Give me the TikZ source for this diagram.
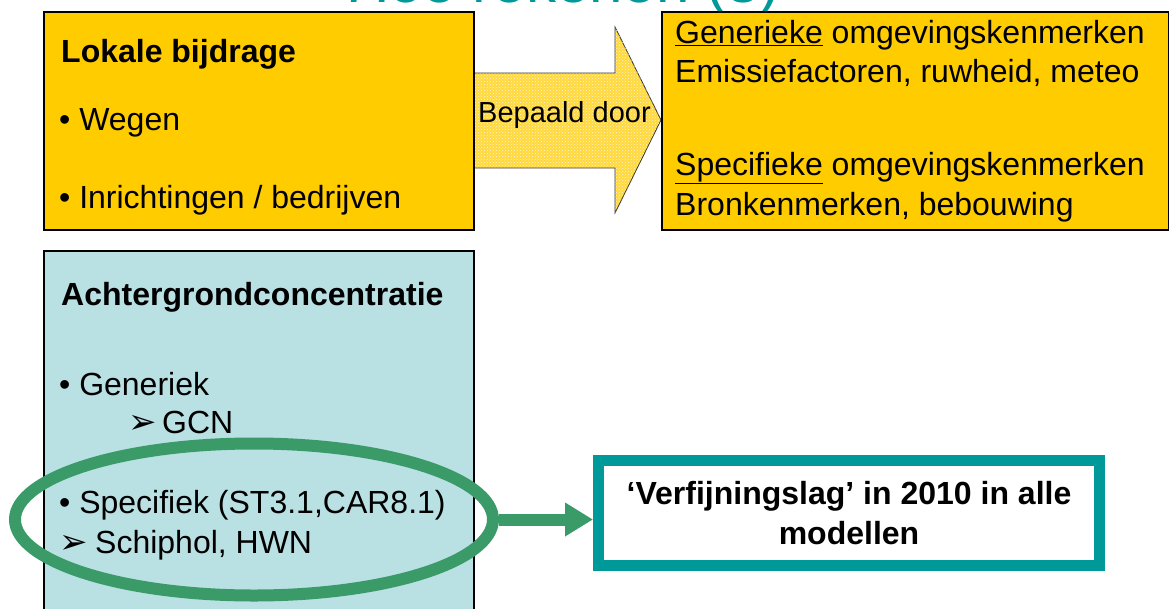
\documentclass[tikz,border=0pt]{standalone}
\usepackage{fontspec}
\setmainfont{Liberation Sans}
\newfontfamily\dingfont{DejaVu Sans}
\usetikzlibrary{arrows.meta,shapes.geometric,patterns}
\definecolor{ppyellow}{HTML}{FFCC00}
\definecolor{arrowyellow}{HTML}{FFD83C}
\definecolor{ppltteal}{HTML}{B9E0E3}
\definecolor{ppgreen}{HTML}{3A9B69}
\definecolor{ppteal}{HTML}{009999}
\newcommand{\darrowhead}{{\dingfont\fontsize{34}{34}\selectfont ➢}}
\begin{document}
\begin{tikzpicture}[x=1pt,y=-1pt,
  txt/.style={anchor=base west, inner sep=0pt, font=\fontsize{32}{38}\selectfont},
  btxt/.style={anchor=base west, inner sep=0pt, font=\fontsize{32}{38}\selectfont\bfseries},
  ybox/.style={rectangle, draw=black, line width=2pt, fill=ppyellow, inner sep=0pt},
  tbox/.style={rectangle, draw=black, line width=1.5pt, fill=ppltteal, inner sep=0pt},
  blockarrow/.style={draw=black!80, line width=0.8pt, fill=arrowyellow,
    postaction={pattern=crosshatch dots, pattern color=white!75!arrowyellow}},
  resbox/.style={rectangle, draw=ppteal, line width=11pt, fill=white, inner sep=0pt,
    align=center, font=\fontsize{32}{40}\selectfont\bfseries},
  ring/.style={ellipse, draw=ppgreen, line width=12pt, inner sep=0pt},
  garrow/.style={draw=ppgreen, line width=12pt, -{Triangle[length=28pt,width=32pt]}},
]
\useasboundingbox (0,0) rectangle (1169,608);
\clip (0,0) rectangle (1169,608);

% title (cut off at the top, as in the reference)
\node[anchor=base west, inner sep=0pt, text=ppteal, font=\fontsize{60}{72}\selectfont] (title) at (346,2) {Hoe rekenen (3)};

% block arrow
\path[blockarrow] (473,73) -- (615,73) -- (615,27) -- (661,120) -- (615,213) -- (615,168) -- (473,168) -- cycle;

% top boxes
\node[ybox, minimum width=430pt, minimum height=218pt] (lok) at (259,121) {};
\node[ybox, minimum width=507pt, minimum height=218pt] (gen) at (915.5,121) {};

\node[btxt] (lokt) at (61,62) {Lokale bijdrage};
\node[txt] (weg) at (59,130) {• Wegen};
\node[txt] (inr) at (59,208) {• Inrichtingen / bedrijven};

\node[txt, font=\fontsize{29}{34}\selectfont] (bep) at (478,122) {Bepaald door};

\node[txt] (g1) at (675,43) {\underline{Generieke} omgevingskenmerken};
\node[txt] (g2) at (675,82) {Emissiefactoren, ruwheid, meteo};
\node[txt] (s1) at (675,175) {\underline{Specifieke} omgevingskenmerken};
\node[txt] (s2) at (675,215) {Bronkenmerken, bebouwing};

% background box
\node[tbox, minimum width=430pt, minimum height=380pt] (ach) at (259,441) {};
\node[btxt] (acht) at (61,305) {Achtergrondconcentratie};
\node[txt] (gnr) at (59,395) {• Generiek};
\node[txt] (gcn) at (128,433) {\makebox[34pt][l]{\darrowhead}GCN};
\node[txt] (spc) at (59,513) {• Specifiek (ST3.1,CAR8.1)};
\node[txt] (sch) at (59,553) {\makebox[36pt][l]{\darrowhead}Schiphol, HWN};

% highlight ellipse and result
\node[ring, minimum width=478pt, minimum height=152pt] (ell) at (254,519.5) {};
\node[resbox, minimum width=501pt, minimum height=105pt] (res) at (849,513) {‘Verfijningslag’ in 2010 in alle\\modellen};
\draw[garrow] (ell.east) -- (ell.east -| res.west);
\end{tikzpicture}
\end{document}
